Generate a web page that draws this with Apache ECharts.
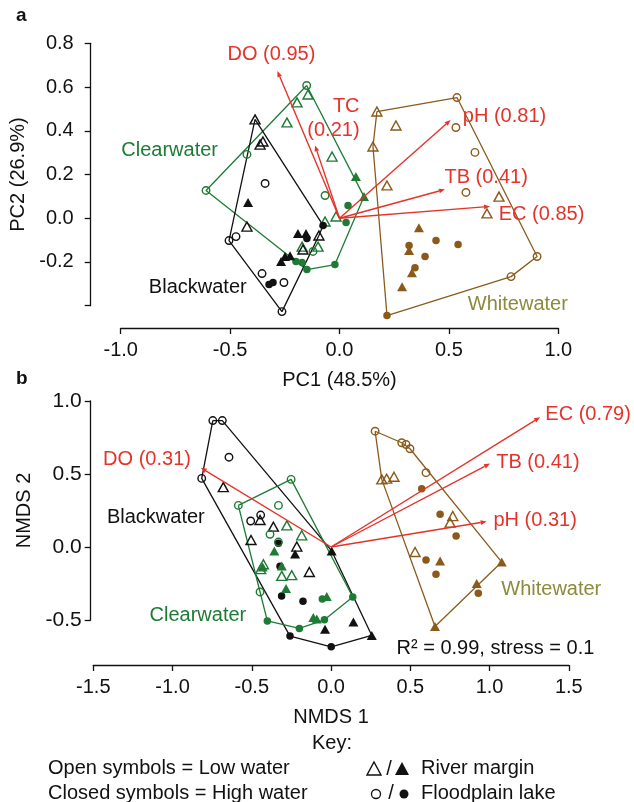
<!DOCTYPE html>
<html>
<head>
<meta charset="utf-8">
<script src="https://cdn.jsdelivr.net/npm/echarts@6/dist/echarts.min.js"></script>
<style>
html,body{margin:0;padding:0;background:#fff;}
#c{width:634px;height:802px;}
</style>
</head>
<body>
<div id="c"></div>
<script>
// ---------- Panel a: PCA ----------
const pcaBlackOpenTri = [[-0.386,0.452],[-0.363,0.337],[-0.350,0.351],[-0.423,-0.038],[-0.094,-0.079],[-0.167,-0.143]];
const pcaBlackOpenCir = [[-0.340,0.159],[-0.473,-0.084],[-0.505,-0.102],[-0.354,-0.253],[-0.254,-0.294],[-0.263,-0.427]];
const pcaBlackFillTri = [[-0.418,0.072],[-0.190,-0.070],[-0.153,-0.070],[-0.249,-0.175],[-0.226,-0.171],[-0.267,-0.198]];
const pcaBlackFillCir = [[-0.149,-0.093],[-0.075,-0.033],[-0.322,-0.303],[-0.304,-0.294]];
const pcaBlackHull = [[-0.386,0.452],[-0.075,-0.033],[-0.094,-0.079],[-0.263,-0.427],[-0.505,-0.102]];

const pcaGreenOpenTri = [[-0.144,0.566],[-0.194,0.530],[-0.240,0.438],[-0.034,0.282],[-0.016,0.008],[-0.066,-0.015],[-0.098,-0.130],[-0.171,-0.130]];
const pcaGreenOpenCir = [[-0.150,0.607],[-0.423,0.292],[-0.610,0.127],[-0.066,0.104],[-0.121,-0.152]];
const pcaGreenFillTri = [[0.075,0.191],[0.112,0.099]];
const pcaGreenFillCir = [[0.039,0.058],[0.030,-0.020],[-0.199,-0.198],[-0.171,-0.203],[-0.149,-0.235],[-0.021,-0.212]];
const pcaGreenHull = [[-0.150,0.607],[0.112,0.099],[-0.021,-0.212],[-0.149,-0.235],[-0.199,-0.198],[-0.610,0.127]];

const pcaBrownOpenTri = [[0.171,0.488],[0.258,0.424],[0.153,0.328],[0.217,0.150],[0.729,0.099],[0.674,0.022]];
const pcaBrownOpenCir = [[0.537,0.552],[0.532,0.415],[0.619,0.301],[0.578,0.118],[0.903,-0.175],[0.784,-0.267]];
const pcaBrownFillTri = [[0.363,-0.043],[0.318,-0.148],[0.331,-0.249],[0.286,-0.313]];
const pcaBrownFillCir = [[0.217,-0.445],[0.441,-0.102],[0.542,-0.120],[0.318,-0.125],[0.391,-0.175],[0.345,-0.226]];
const pcaBrownHull = [[0.171,0.488],[0.537,0.552],[0.903,-0.175],[0.784,-0.267],[0.217,-0.445],[0.153,0.328]];

const pcaVarNames = ['DO (0.95)','TC (0.21)','pH (0.81)','TB (0.41)','EC (0.85)'];
const pcaLoadX = [-0.284,-0.112,0.508,0.482,0.688];
const pcaLoadY = [0.673,0.333,0.449,0.132,0.054];

const pcaXTicks = [-1.0,-0.5,0.0,0.5,1.0];
const pcaYTicks = [-0.4,-0.2,0.0,0.2,0.4,0.6,0.8];

// ---------- Panel b: NMDS ----------
const nmBlackOpenTri = [[-0.680,0.410],[-0.448,0.185],[-0.364,0.139],[-0.505,0.048],[-0.216,0.003],[-0.137,-0.171]];
const nmBlackOpenCir = [[-0.746,0.866],[-0.686,0.866],[-0.644,0.615],[-0.816,0.470],[-0.507,0.178],[-0.444,0.219]];
const nmBlackFillTri = [[-0.227,-0.048],[0.004,-0.027],[0.141,-0.513],[-0.038,-0.563],[0.257,-0.606]];
const nmBlackFillCir = [[-0.332,0.025],[-0.322,-0.132],[-0.312,-0.335],[-0.177,-0.371],[-0.259,-0.610],[0.001,-0.684]];
const nmBlackHull = [[-0.746,0.866],[-0.686,0.866],[0.004,-0.027],[0.257,-0.606],[0.001,-0.684],[-0.259,-0.610],[-0.816,0.470]];

const nmGreenOpenTri = [[-0.279,0.148],[-0.185,0.080],[-0.427,-0.118],[-0.444,-0.152],[-0.311,-0.198],[-0.248,-0.193]];
const nmGreenOpenCir = [[-0.252,0.463],[-0.585,0.285],[-0.332,0.285],[-0.385,0.087],[-0.332,0.034],[-0.448,-0.308]];
const nmGreenFillTri = [[-0.358,-0.027],[-0.431,-0.137],[-0.311,-0.130],[-0.284,-0.284],[-0.027,-0.339],[-0.112,-0.483],[-0.090,-0.494]];
const nmGreenFillCir = [[-0.055,-0.357],[0.137,-0.342],[-0.042,-0.499],[-0.200,-0.558],[-0.402,-0.506]];
const nmGreenHull = [[-0.585,0.285],[-0.252,0.463],[0.137,-0.342],[-0.042,-0.499],[-0.200,-0.558],[-0.402,-0.506],[-0.448,-0.308]];

const nmBrownOpenTri = [[0.320,0.463],[0.351,0.468],[0.397,0.481],[0.768,0.212],[0.751,0.167],[0.530,-0.034]];
const nmBrownOpenCir = [[0.278,0.793],[0.446,0.714],[0.473,0.702],[0.498,0.673],[0.599,0.509]];
const nmBrownFillTri = [[0.688,-0.096],[1.077,-0.103],[0.919,-0.250],[0.656,-0.544]];
const nmBrownFillCir = [[0.572,0.399],[0.688,0.224],[0.789,0.075],[0.599,-0.089],[0.662,-0.187],[0.929,-0.316]];
const nmBrownHull = [[0.278,0.793],[0.446,0.714],[0.498,0.673],[1.077,-0.103],[0.656,-0.544],[0.320,0.463]];

const nmVarNames = ['DO (0.31)','EC (0.79)','TB (0.41)','pH (0.31)'];
const nmLoadX = [-0.822,1.319,1.003,0.982];
const nmLoadY = [0.543,0.889,0.572,0.174];

const nmXTicks = [-1.5,-1.0,-0.5,0.0,0.5,1.0,1.5];
const nmYTicks = [-0.5,0.0,0.5,1.0];

// ---------- styles ----------
const FONT = '"Liberation Sans", Arial, Helvetica, sans-serif';
const BLACK = '#111111', GREEN = '#1e7b35', BROWN = '#8b5a1b', RED = '#e5332a', OLIVE = '#8c8a3c';

function pointSeries(data, xi, color, shape, filled) {
  return {
    type: 'scatter', xAxisIndex: xi, yAxisIndex: xi, data: data, clip: false, silent: true,
    symbol: shape, symbolSize: shape === 'triangle' ? [10, 9] : 7.5,
    itemStyle: filled ? { color: color, borderWidth: 0, opacity: 1 }
                      : { color: 'rgba(255,255,255,0)', borderColor: color, borderWidth: 1.4, opacity: 1 },
    z: 3
  };
}
function groupSeries(xi, color, ot, oc, ft, fc, hull) {
  return [
    { type: 'line', xAxisIndex: xi, yAxisIndex: xi, data: hull.concat([hull[0]]), clip: false, silent: true,
      symbol: 'none', lineStyle: { color: color, width: 1.3 }, z: 2 },
    pointSeries(ot, xi, color, 'triangle', false),
    pointSeries(oc, xi, color, 'circle', false),
    pointSeries(ft, xi, color, 'triangle', true),
    pointSeries(fc, xi, color, 'circle', true)
  ];
}
function arrowSeries(xi, xs, ys) {
  return {
    type: 'custom', xAxisIndex: xi, yAxisIndex: xi, clip: false, silent: true, z: 5,
    data: xs.map((x, i) => [x, ys[i]]),
    renderItem: function (params, api) {
      const o = api.coord([0, 0]);
      const t = api.coord([api.value(0), api.value(1)]);
      const dx = t[0] - o[0], dy = t[1] - o[1];
      const L = Math.hypot(dx, dy), ux = dx / L, uy = dy / L;
      const hl = 6, hw = 2.4;
      const bx = t[0] - ux * hl, by = t[1] - uy * hl;
      return { type: 'group', children: [
        { type: 'line', shape: { x1: o[0], y1: o[1], x2: bx, y2: by }, style: { stroke: RED, lineWidth: 1.4 } },
        { type: 'polygon', shape: { points: [[t[0], t[1]], [bx - uy * hw, by + ux * hw], [bx + uy * hw, by - ux * hw]] }, style: { fill: RED } }
      ]};
    }
  };
}
function textSeries(xi, items, fontSize) {
  return {
    type: 'scatter', xAxisIndex: xi, yAxisIndex: xi, clip: false, silent: true, z: 6,
    symbol: 'circle', symbolSize: 1, itemStyle: { color: 'rgba(0,0,0,0)' },
    data: items.map(a => ({ value: [a.x, a.y], label: { show: true, position: [0, 0], offset: [0, 2], formatter: a.text,
      align: a.align, verticalAlign: 'middle', color: a.color, opacity: 1, textBorderWidth: 0, textShadowBlur: 0,
      fontSize: fontSize, fontFamily: FONT, lineHeight: 24 } }))
  };
}
// label placement (data coordinates of the anchor)
const annA = [
  { text: pcaVarNames[0], x: -0.309, y: 0.754, align: 'center', color: RED },
  { text: 'TC\n(0.21)', x: 0.094, y: 0.461, align: 'right', color: RED },
  { text: pcaVarNames[2], x: 0.566, y: 0.470, align: 'left', color: RED },
  { text: pcaVarNames[3], x: 0.482, y: 0.192, align: 'left', color: RED },
  { text: pcaVarNames[4], x: 0.730, y: 0.022, align: 'left', color: RED },
  { text: 'Clearwater', x: -0.995, y: 0.317, align: 'left', color: GREEN },
  { text: 'Blackwater', x: -0.869, y: -0.311, align: 'left', color: BLACK },
  { text: 'Whitewater', x: 0.589, y: -0.387, align: 'left', color: OLIVE }
];
const annB = [
  { text: nmVarNames[0], x: -1.158, y: 0.611, align: 'center', color: RED },
  { text: nmVarNames[1], x: 1.355, y: 0.919, align: 'left', color: RED },
  { text: nmVarNames[2], x: 1.045, y: 0.588, align: 'left', color: RED },
  { text: nmVarNames[3], x: 1.028, y: 0.189, align: 'left', color: RED },
  { text: 'Blackwater', x: -1.411, y: 0.212, align: 'left', color: BLACK },
  { text: 'Clearwater', x: -1.142, y: -0.460, align: 'left', color: GREEN },
  { text: 'Whitewater', x: 1.077, y: -0.282, align: 'left', color: OLIVE },
  { text: 'R² = 0.99, stress = 0.1', x: 0.416, y: -0.682, align: 'left', color: BLACK }
];

const fmt1 = v => v.toFixed(1);
function xAxis(gi, ticks, name, offset, fs, margin) {
  return { type: 'value', gridIndex: gi, min: ticks[0], max: ticks[ticks.length - 1], interval: 0.5,
    position: 'bottom', offset: offset, name: name, nameLocation: 'middle', nameGap: 42,
    nameTextStyle: { fontSize: 20, color: BLACK, fontFamily: FONT },
    axisLine: { show: true, onZero: false, lineStyle: { color: BLACK, width: 1.3 } },
    axisTick: { show: true, inside: false, length: 6, lineStyle: { color: BLACK, width: 1.3 } },
    axisLabel: { fontSize: fs, color: BLACK, fontFamily: FONT, margin: margin, formatter: v => ticks.some(t => Math.abs(t - v) < 1e-9) ? fmt1(v) : '' },
    splitLine: { show: false } };
}
function yAxis(gi, ticks, interval, hide, name, offset, fs, margin) {
  return { type: 'value', gridIndex: gi, min: ticks[0], max: ticks[ticks.length - 1], interval: interval,
    position: 'left', offset: offset, name: name, nameLocation: 'middle', nameGap: 56,
    nameTextStyle: { fontSize: 20, color: BLACK, fontFamily: FONT },
    axisLine: { show: true, onZero: false, lineStyle: { color: BLACK, width: 1.3 } },
    axisTick: { show: true, inside: false, length: 6, lineStyle: { color: BLACK, width: 1.3 } },
    axisLabel: { fontSize: fs, color: BLACK, fontFamily: FONT, margin: margin, formatter: v => hide.some(t => Math.abs(t - v) < 1e-9) ? '' : fmt1(v) },
    splitLine: { show: false } };
}

const chart = echarts.init(document.getElementById('c'), null, { renderer: 'canvas' });
const series = [].concat(
  groupSeries(0, GREEN, pcaGreenOpenTri, pcaGreenOpenCir, pcaGreenFillTri, pcaGreenFillCir, pcaGreenHull),
  groupSeries(0, BROWN, pcaBrownOpenTri, pcaBrownOpenCir, pcaBrownFillTri, pcaBrownFillCir, pcaBrownHull),
  groupSeries(0, BLACK, pcaBlackOpenTri, pcaBlackOpenCir, pcaBlackFillTri, pcaBlackFillCir, pcaBlackHull),
  [arrowSeries(0, pcaLoadX, pcaLoadY), textSeries(0, annA, 20)],
  groupSeries(1, BLACK, nmBlackOpenTri, nmBlackOpenCir, nmBlackFillTri, nmBlackFillCir, nmBlackHull),
  groupSeries(1, GREEN, nmGreenOpenTri, nmGreenOpenCir, nmGreenFillTri, nmGreenFillCir, nmGreenHull),
  groupSeries(1, BROWN, nmBrownOpenTri, nmBrownOpenCir, nmBrownFillTri, nmBrownFillCir, nmBrownHull),
  [arrowSeries(1, nmLoadX, nmLoadY), textSeries(1, annB, 20)]
);

chart.setOption({
  animation: false,
  backgroundColor: '#ffffff',
  textStyle: { fontFamily: FONT },
  grid: [
    { left: 120.7, right: 75.7, top: 43.3, height: 262.4 },
    { left: 93.3, right: 65.2, top: 401, height: 219 }
  ],
  xAxis: [
    xAxis(0, pcaXTicks, 'PC1 (48.5%)', 22.3, 20, 12),
    xAxis(1, nmXTicks, 'NMDS 1', 45, 20, 12)
  ],
  yAxis: [
    yAxis(0, pcaYTicks, 0.2, [-0.4], 'PC2 (26.9%)', 30, 20, 17),
    yAxis(1, nmYTicks, 0.5, [], 'NMDS 2', 2.6, 21, 9)
  ],
  series: series,
  graphic: [
    { type: 'text', left: 16, top: 6, style: { text: 'a', fill: BLACK, font: 'bold 19px ' + FONT } },
    { type: 'text', left: 16, top: 369, style: { text: 'b', fill: BLACK, font: 'bold 19px ' + FONT } },
    { type: 'text', x: 332, y: 743, style: { text: 'Key:', fill: BLACK, font: '20px ' + FONT, textAlign: 'center', textVerticalAlign: 'middle' } },
    { type: 'text', x: 48, y: 768, style: { text: 'Open symbols = Low water', fill: BLACK, font: '20px ' + FONT, textAlign: 'left', textVerticalAlign: 'middle' } },
    { type: 'text', x: 48, y: 793, style: { text: 'Closed symbols = High water', fill: BLACK, font: '20px ' + FONT, textAlign: 'left', textVerticalAlign: 'middle' } },
    { type: 'polygon', shape: { points: [[367, 775], [381, 775], [374, 762]] }, style: { fill: 'none', stroke: BLACK, lineWidth: 1.4 } },
    { type: 'text', x: 389, y: 769, style: { text: '/', fill: BLACK, font: '20px ' + FONT, textAlign: 'center', textVerticalAlign: 'middle' } },
    { type: 'polygon', shape: { points: [[395, 775], [409, 775], [402, 762]] }, style: { fill: BLACK } },
    { type: 'text', x: 421, y: 768, style: { text: 'River margin', fill: BLACK, font: '20px ' + FONT, textAlign: 'left', textVerticalAlign: 'middle' } },
    { type: 'circle', shape: { cx: 376, cy: 794, r: 4.5 }, style: { fill: 'none', stroke: BLACK, lineWidth: 1.3 } },
    { type: 'text', x: 391, y: 793, style: { text: '/', fill: BLACK, font: '20px ' + FONT, textAlign: 'center', textVerticalAlign: 'middle' } },
    { type: 'circle', shape: { cx: 404, cy: 794, r: 4.5 }, style: { fill: BLACK } },
    { type: 'text', x: 421, y: 793, style: { text: 'Floodplain lake', fill: BLACK, font: '20px ' + FONT, textAlign: 'left', textVerticalAlign: 'middle' } }
  ]
});
</script>
</body>
</html>
